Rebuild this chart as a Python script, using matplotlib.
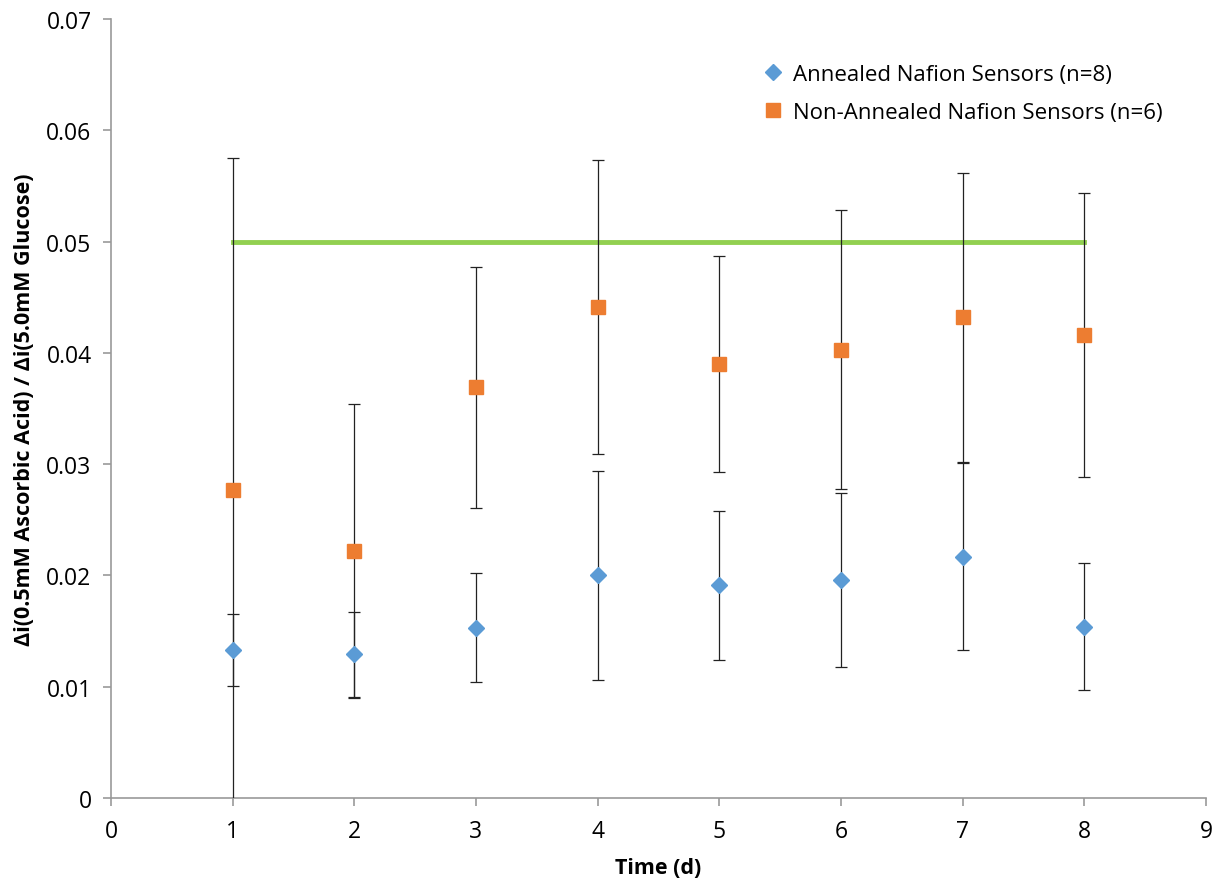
import numpy as np
import matplotlib
matplotlib.use('Agg')
import matplotlib.pyplot as plt
from matplotlib.lines import Line2D

plt.rcParams['font.family'] = ['Open Sans', 'DejaVu Sans']

# data: ratio of ascorbic acid response to glucose response over time
days = [1, 2, 3, 4, 5, 6, 7, 8]
annealed = [0.0133, 0.0129, 0.0153, 0.0200, 0.0191, 0.0196, 0.0217, 0.0154]
annealed_err = [0.0032, 0.0038, 0.0049, 0.0094, 0.0067, 0.0078, 0.0084, 0.0057]
non_annealed = [0.0277, 0.0222, 0.0369, 0.0441, 0.0390, 0.0403, 0.0432, 0.0416]
non_annealed_err = [0.0298, 0.0132, 0.0108, 0.0132, 0.0097, 0.0125, 0.0130, 0.0128]
limit_days = [1, 8]
limit = [0.05, 0.05]

blue = '#5B9BD5'
orange = '#ED7D31'

fig = plt.figure(figsize=(12.13, 8.79), dpi=100)
ax = fig.add_axes([111/1213, 80/879, (1206-111)/1213, (799-20)/879])

ax.plot(limit_days, limit, color='#92D050', lw=3.5, zorder=2)

ax.errorbar(days, non_annealed, yerr=non_annealed_err, fmt='s', color=orange,
            ms=10, ecolor='#222222', elinewidth=0.9, capsize=4, capthick=0.9,
            zorder=3)
ax.errorbar(days, annealed, yerr=annealed_err, fmt='D', color=blue,
            ms=8, ecolor='#222222', elinewidth=0.9, capsize=4, capthick=0.9,
            zorder=4)

ax.set_xlim(0, 9)
ax.set_ylim(0, 0.07)
ax.set_xticks(range(0, 10))
ax.set_yticks(np.arange(0, 0.071, 0.01))
ax.set_yticklabels(['0', '0.01', '0.02', '0.03', '0.04', '0.05', '0.06', '0.07'])

for s in ['top', 'right']:
    ax.spines[s].set_visible(False)
for s in ['left', 'bottom']:
    ax.spines[s].set_color('#999999')
    ax.spines[s].set_linewidth(1.2)
ax.tick_params(axis='both', colors='#999999', labelcolor='black', labelsize=16.5,
               length=6, width=1.2, direction='out')
ax.tick_params(axis='x', pad=9)
ax.tick_params(axis='y', pad=8)

ax.set_xlabel('Time (d)', fontsize=15.5, fontweight='bold', labelpad=10)
ax.set_ylabel('Δi(0.5mM Ascorbic Acid) / Δi(5.0mM Glucose)', fontsize=15.5,
              fontweight='bold', labelpad=8)

handles = [
    Line2D([], [], ls='none', marker='D', color=blue, ms=8),
    Line2D([], [], ls='none', marker='s', color=orange, ms=10),
]
labels = ['Annealed Nafion Sensors (n=8)', 'Non-Annealed Nafion Sensors (n=6)']
ax.legend(handles, labels, loc='upper left', bbox_to_anchor=(0.5745, 0.968),
          frameon=False, fontsize=16, handletextpad=0.3, labelspacing=0.78,
          handlelength=1.2)

fig.savefig('out.png', dpi=100)
